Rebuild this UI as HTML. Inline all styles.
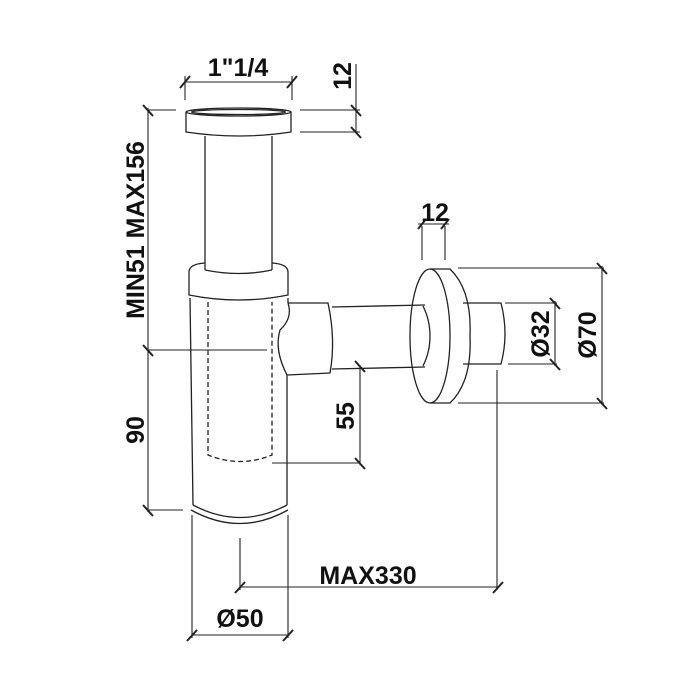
<!DOCTYPE html>
<html><head><style>
html,body{margin:0;padding:0;background:#fff;}
svg{display:block;}
text{font-family:"Liberation Sans",Arial,sans-serif;font-weight:bold;font-size:25px;fill:#111;}
</style></head><body>
<svg width="700" height="700" viewBox="0 0 700 700" xmlns="http://www.w3.org/2000/svg">
<g fill="none" stroke="#222" stroke-width="1.3">
<path d="M186 112 L186 132 Q239 140 291 132 L291 112"/>
<ellipse cx="238.5" cy="112" rx="52.5" ry="4"/>
<ellipse cx="238.5" cy="112" rx="47" ry="2.5"/>
<line x1="205" y1="136" x2="205" y2="270"/>
<line x1="272" y1="136" x2="272" y2="270"/>
<path d="M189 272 L189 295 Q239 305 288 295 L288 272"/>
<path d="M189 272 Q189 264 205 263 M272 263 Q288 264 288 272"/>
<path d="M205 270 Q239 277 272 270"/>
<path d="M190 298 L193 505"/>
<path d="M288 298 L288 303 M287 375 L287 505"/>
<path d="M193 505 Q240 530 287 505"/>
<path d="M191 510 Q240 537 288 510"/>
<path d="M208 302 L208 455 Q240 468 272 455 L272 302" stroke-dasharray="5,3"/>
<path d="M288 303 L328 303 Q336 340 330 373 L287 375"/>
<path d="M288 303 Q293 318 280 330 Q274 350 287 375"/>
<path d="M332 307 L425 305 M332 369 L425 367"/>
<ellipse cx="430" cy="336" rx="20" ry="67"/>
<path d="M430 269 L450 269 Q472 290 470 336 Q472 382 450 403 L430 403"/>
<path d="M423 306 Q430 320 430 336 Q430 352 423 366"/>
<path d="M463 303 L501 303 Q509 334 501 364 L463 364"/>
<g stroke-width="1.1">
<line x1="185" y1="82" x2="292" y2="82"/>
<line x1="185" y1="76" x2="185" y2="100"/>
<line x1="292" y1="76" x2="292" y2="100"/>
<line x1="180" y1="88" x2="190" y2="76" stroke-width="2"/>
<line x1="287" y1="88" x2="297" y2="76" stroke-width="2"/>
<line x1="356" y1="64" x2="356" y2="133"/>
<line x1="300" y1="110" x2="360" y2="110"/>
<line x1="300" y1="132" x2="360" y2="132"/>
<line x1="351" y1="105" x2="361" y2="116" stroke-width="2"/>
<line x1="351" y1="127" x2="361" y2="138" stroke-width="2"/>
<line x1="148" y1="108" x2="148" y2="512"/>
<line x1="148" y1="110" x2="176" y2="110"/>
<line x1="148" y1="350" x2="267" y2="350"/>
<line x1="148" y1="510" x2="183" y2="510"/>
<line x1="143" y1="105" x2="153" y2="116" stroke-width="2"/>
<line x1="143" y1="345" x2="153" y2="356" stroke-width="2"/>
<line x1="143" y1="505" x2="153" y2="516" stroke-width="2"/>
<line x1="360" y1="367" x2="360" y2="465"/>
<line x1="272" y1="463" x2="360" y2="463"/>
<line x1="355" y1="361" x2="365" y2="372" stroke-width="2"/>
<line x1="355" y1="458" x2="365" y2="469" stroke-width="2"/>
<line x1="422" y1="226" x2="422" y2="260"/>
<line x1="445" y1="226" x2="445" y2="260"/>
<line x1="418" y1="224" x2="449" y2="224"/>
<line x1="418" y1="229" x2="426" y2="219" stroke-width="2"/>
<line x1="441" y1="229" x2="449" y2="219" stroke-width="2"/>
<line x1="458" y1="268" x2="604" y2="268"/>
<line x1="458" y1="403" x2="604" y2="403"/>
<line x1="602" y1="266" x2="602" y2="405"/>
<line x1="597" y1="263" x2="607" y2="274" stroke-width="2"/>
<line x1="597" y1="398" x2="607" y2="409" stroke-width="2"/>
<line x1="505" y1="303" x2="557" y2="303"/>
<line x1="508" y1="364" x2="557" y2="364"/>
<line x1="555" y1="301" x2="555" y2="366"/>
<line x1="550" y1="298" x2="560" y2="309" stroke-width="2"/>
<line x1="550" y1="359" x2="560" y2="370" stroke-width="2"/>
<line x1="497" y1="370" x2="497" y2="590"/>
<line x1="240" y1="538" x2="240" y2="590"/>
<line x1="240" y1="587" x2="499" y2="587"/>
<line x1="235" y1="593" x2="245" y2="582" stroke-width="2"/>
<line x1="493" y1="593" x2="503" y2="582" stroke-width="2"/>
<line x1="192" y1="515" x2="192" y2="638"/>
<line x1="288" y1="515" x2="288" y2="638"/>
<line x1="192" y1="635" x2="288" y2="635"/>
<line x1="187" y1="641" x2="197" y2="630" stroke-width="2"/>
<line x1="283" y1="641" x2="293" y2="630" stroke-width="2"/>
</g>
</g>
<text x="238" y="76" text-anchor="middle">1"1/4</text>
<text transform="translate(351,76) rotate(-90)" text-anchor="middle">12</text>
<text transform="translate(144,230) rotate(-90)" text-anchor="middle">MIN51 MAX156</text>
<text transform="translate(144,430) rotate(-90)" text-anchor="middle">90</text>
<text transform="translate(354,416) rotate(-90)" text-anchor="middle">55</text>
<text x="435" y="221" text-anchor="middle">12</text>
<text transform="translate(549,334) rotate(-90)" text-anchor="middle">Ø32</text>
<text transform="translate(596,335) rotate(-90)" text-anchor="middle">Ø70</text>
<text x="368" y="584" text-anchor="middle">MAX330</text>
<text x="240" y="627" text-anchor="middle">Ø50</text>
</svg>
</body></html>
